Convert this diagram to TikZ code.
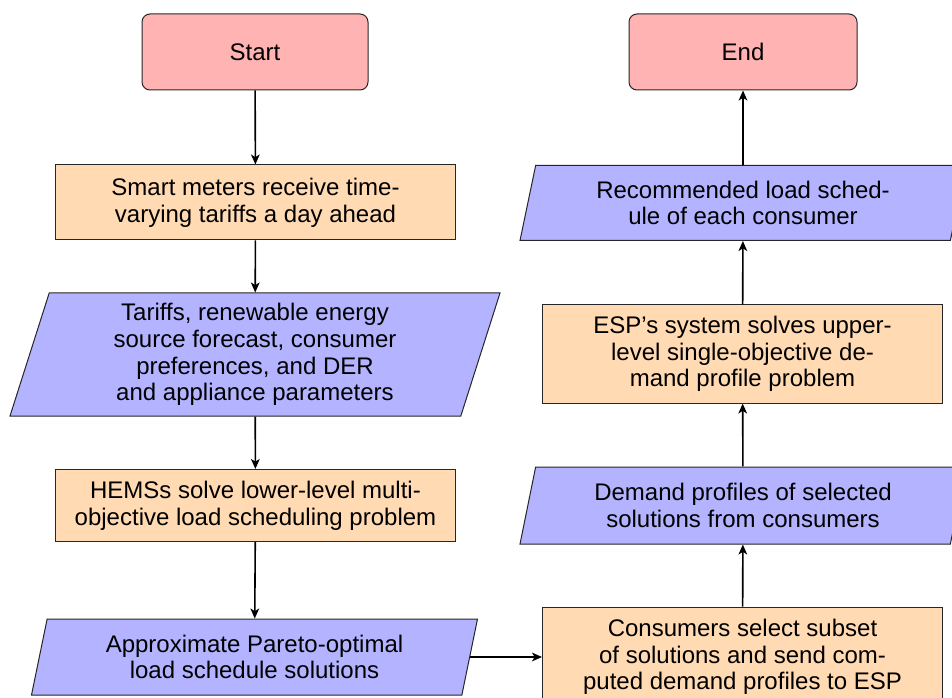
\documentclass[tikz,border=0pt]{standalone}
\usepackage{fontspec}
\setmainfont{Liberation Sans}
\usetikzlibrary{shapes.geometric,arrows.meta}
\definecolor{startc}{RGB}{255,179,179}
\definecolor{procc}{RGB}{255,218,179}
\definecolor{ioc}{RGB}{179,179,255}
\tikzset{
  base/.style={draw=black!85, line width=0.75pt, align=center, font=\fontsize{18}{20}\selectfont, inner sep=2pt},
  term/.style={base, rectangle, rounded corners=6pt, fill=startc, minimum width=226*0.75pt, minimum height=76*0.75pt},
  proc/.style={base, rectangle, fill=procc, minimum width=400*0.75pt},
  io/.style={base, trapezium, trapezium left angle=72.5, trapezium right angle=107.5, trapezium stretches body=true, fill=ioc, minimum width=446*0.75pt},
  io2/.style={io, trapezium left angle=70, trapezium right angle=110, minimum width=490*0.75pt},
  arr/.style={-{Stealth[length=7.5pt,width=6.5pt,inset=2pt]}, line width=1.2pt, black}
}
\begin{document}
\begin{tikzpicture}[x=0.75pt,y=-0.75pt]
\path[use as bounding box, clip] (0,0) rectangle (952,698);
\fill[white] (0,0) rectangle (952,698);
% left column
\node[term] (start) at (255,52) {Start};
\node[proc, minimum height=75*0.75pt] (b1) at (255.5,202.5) {Smart meters receive time-\\varying tariffs a day ahead};
\node[io2, minimum height=123*0.75pt] (p2) at (255,354.5) {Tariffs, renewable energy\\source forecast, consumer\\preferences, and DER\\and appliance parameters};
\node[proc, minimum height=72*0.75pt] (b3) at (255.5,505.5) {HEMSs solve lower-level multi-\\objective load scheduling problem};
\node[io, minimum height=76*0.75pt] (p4) at (254.5,657) {Approximate Pareto-optimal\\load schedule solutions};
% right column
\node[proc, minimum height=100*0.75pt] (b5) at (742.5,657) {Consumers select subset\\of solutions and send com-\\puted demand profiles to ESP};
\node[io, minimum height=77*0.75pt] (pd) at (743,505.5) {Demand profiles of selected\\solutions from consumers};
\node[proc, minimum height=98*0.75pt] (esp) at (742.5,354) {ESP’s system solves upper-\\level single-objective de-\\mand profile problem};
\node[io, minimum height=75*0.75pt] (pr) at (743,203) {Recommended load sched-\\ule of each consumer};
\node[term, minimum width=228*0.75pt] (end) at (743,52) {End};
% connectors
\draw[arr] (start) -- (b1);
\draw[arr] (b1) -- (p2);
\draw[arr] (p2) -- (b3);
\draw[arr] (b3) -- (p4);
\draw[arr] (p4.east) -- (b5.west);
\draw[arr] (b5) -- (pd);
\draw[arr] (pd) -- (esp);
\draw[arr] (esp) -- (pr);
\draw[arr] (pr) -- (end);
\end{tikzpicture}
\end{document}
